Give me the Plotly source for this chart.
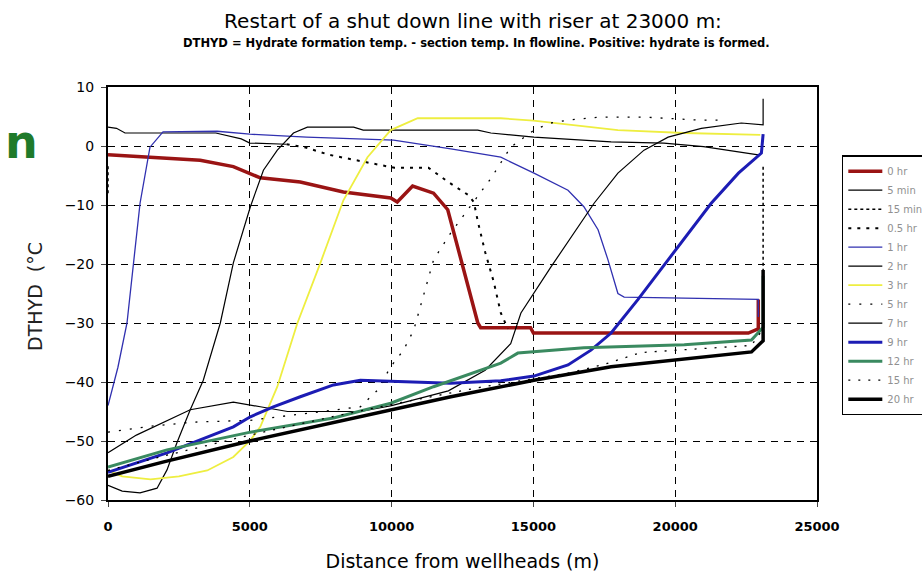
import plotly.graph_objects as go

# Distance from wellheads (m) / DTHYD (deg C) for each time after restart
x_0hr = [0, 1480, 3250, 4420, 5370, 6780, 8300, 9970, 10200, 10740, 11480, 11980, 12440, 13040, 13140, 14900, 15000, 22580, 22930, 22930]
y_0hr = [-1.5, -1.9, -2.4, -3.5, -5.4, -6.1, -7.8, -8.8, -9.5, -6.8, -8.0, -10.8, -19.3, -30.0, -30.8, -30.8, -31.7, -31.7, -31.0, -26.0]

x_5min = [0, 300, 600, 2000, 3800, 4700, 5000, 6300]
y_5min = [3.2, 3.0, 2.2, 2.2, 2.2, 1.2, 0.5, 0.3]

# two separate pieces: wellhead end and riser (None breaks the line)
x_15min = [0, 0, None, 23100, 23100]
y_15min = [-8.0, -3.0, None, -31.5, -3.5]

x_05hr = [6300, 7000, 7800, 9600, 10100, 11300, 12000, 12700, 12900, 13050, 13300, 13600, 13850, 14100]
y_05hr = [0.3, -0.3, -1.5, -3.2, -3.7, -3.7, -6.1, -8.3, -9.5, -13.0, -18.0, -23.0, -28.3, -31.0]

x_1hr = [0, 350, 670, 1130, 1480, 1940, 3850, 5000, 7000, 10070, 12090, 13850, 15020, 16220, 16780, 17280, 17630, 17980, 18200, 22930, 22930]
y_1hr = [-44.0, -37.5, -30.0, -9.7, -0.2, 2.4, 2.5, 2.0, 1.5, 1.0, -0.5, -1.9, -4.6, -7.5, -10.3, -14.2, -19.3, -25.0, -25.6, -26.0, -29.0]

x_2hr = [0, 500, 1130, 1730, 2080, 2430, 2900, 3360, 3960, 4420, 5020, 5480, 5970, 6540, 7030, 8660, 9000, 13040, 13500, 15020, 17740, 19600, 21000, 22930]
y_2hr = [-57.5, -58.5, -58.8, -58.0, -54.9, -50.3, -44.7, -39.7, -30.0, -19.8, -10.3, -4.1, -0.7, 2.2, 3.2, 3.2, 2.7, 2.7, 2.2, 1.5, 0.7, 0.5, -0.1, -1.5]

x_3hr = [0, 500, 1500, 2500, 3500, 4420, 5000, 5370, 5970, 6680, 7490, 8300, 9150, 9970, 10920, 13850, 15000, 17980, 20320, 23000]
y_3hr = [-55.0, -56.0, -56.5, -56.0, -55.0, -52.7, -50.0, -47.6, -40.8, -30.0, -19.8, -9.2, -1.9, 2.7, 4.7, 4.7, 4.3, 2.7, 2.2, 1.9]

x_5hr = [0, 1500, 3000, 5000, 8900, 9500, 9970, 10420, 10780, 11000, 11480, 12090, 13040, 13500, 14200, 15020, 15620, 16220, 17380, 18900, 20800, 21730]
y_5hr = [-48.5, -47.5, -46.8, -46.5, -44.2, -41.4, -37.4, -34.6, -31.2, -27.5, -19.3, -14.7, -8.6, -5.5, -0.2, 2.7, 3.9, 4.4, 4.9, 4.9, 4.4, 4.4]

x_7hr = [0, 1000, 2900, 4420, 5370, 6330, 8900, 10000, 12000, 13300, 14200, 14560, 15620, 16570, 17140, 17980, 18900, 19750, 20920, 22330, 23100, 23100]
y_7hr = [-52.0, -49.0, -44.7, -43.4, -44.2, -45.0, -45.0, -44.0, -41.5, -38.0, -33.5, -28.3, -20.5, -13.7, -9.7, -4.6, -0.7, 1.5, 3.0, 3.9, 3.6, 8.0]

x_9hr = [0, 2080, 3250, 4420, 5020, 5830, 6780, 7950, 8900, 12080, 13850, 15020, 16220, 17030, 17740, 18690, 19750, 21270, 22230, 23040, 23100]
y_9hr = [-55.3, -52.0, -49.8, -47.6, -45.9, -44.2, -42.5, -40.5, -39.7, -40.2, -39.8, -39.0, -37.1, -34.6, -31.7, -26.0, -19.3, -9.7, -4.6, -1.2, 2.0]

x_12hr = [0, 2080, 5020, 7950, 9970, 11480, 13850, 14450, 16780, 20320, 22690, 23100, 23100]
y_12hr = [-54.4, -51.5, -48.5, -46.1, -43.6, -40.8, -36.8, -35.1, -34.2, -33.7, -32.9, -30.7, -22.0]

x_15hr = [0, 2000, 5000, 8000, 10000, 13000, 16220, 17500, 18800, 22690, 23100]
y_15hr = [-55.0, -52.5, -49.0, -45.8, -43.8, -41.0, -38.5, -37.0, -35.0, -33.8, -31.0]

x_20hr = [0, 2000, 5000, 10000, 12090, 15020, 17740, 22690, 23100, 23100]
y_20hr = [-56.0, -53.5, -50.0, -44.7, -42.5, -39.7, -37.4, -34.9, -33.0, -21.0]

series = [
    ("0 hr", x_0hr, y_0hr, "#9a1414", 3.5, "solid"),
    ("5 min", x_5min, y_5min, "#000000", 1.2, "solid"),
    ("15 min", x_15min, y_15min, "#000000", 1.5, "dot"),
    ("0.5 hr", x_05hr, y_05hr, "#000000", 2.0, "3px,6px"),
    ("1 hr", x_1hr, y_1hr, "#3030b0", 1.3, "solid"),
    ("2 hr", x_2hr, y_2hr, "#000000", 1.2, "solid"),
    ("3 hr", x_3hr, y_3hr, "#eeee40", 1.8, "solid"),
    ("5 hr", x_5hr, y_5hr, "#000000", 1.3, "2px,9px"),
    ("7 hr", x_7hr, y_7hr, "#000000", 1.2, "solid"),
    ("9 hr", x_9hr, y_9hr, "#1c1cb4", 3.0, "solid"),
    ("12 hr", x_12hr, y_12hr, "#3a8a60", 3.0, "solid"),
    ("15 hr", x_15hr, y_15hr, "#000000", 1.3, "2px,8px"),
    ("20 hr", x_20hr, y_20hr, "#000000", 3.5, "solid"),
]

x_ticks = [0, 5000, 10000, 15000, 20000, 25000]
y_ticks = [10, 0, -10, -20, -30, -40, -50, -60]

fig = go.Figure()
for name, xs, ys, color, width, dash in series:
    fig.add_trace(go.Scatter(x=xs, y=ys, mode="lines", name=name,
                             connectgaps=False,
                             line=dict(color=color, width=width, dash=dash)))

fig.update_layout(
    width=922, height=577,
    margin=dict(l=108, r=105, t=87, b=77, autoexpand=False),
    paper_bgcolor="white", plot_bgcolor="white",
    font=dict(family="DejaVu Sans, Liberation Sans, sans-serif", color="black"),
    showlegend=True,
    legend=dict(x=1.035, y=0.835, xanchor="left", yanchor="top",
                bordercolor="black", borderwidth=1.5, bgcolor="white",
                font=dict(size=10, color="#909090"), itemwidth=34,
                tracegroupgap=0),
    title=dict(text="Restart of a shut down line with riser at 23000 m:",
               x=0.513, xanchor="center", y=0.964, yanchor="middle",
               font=dict(size=20, color="black")),
)

fig.update_xaxes(range=[0, 25000], tickvals=x_ticks,
                 ticktext=["<b>%d</b>" % v for v in x_ticks],
                 tickfont=dict(size=13), ticks="outside", ticklen=5,
                 ticklabelstandoff=8,
                 showline=True, linecolor="black", linewidth=2, mirror=True,
                 showgrid=True, gridcolor="black", gridwidth=1.2,
                 griddash="7px,6px", zeroline=False,
                 title=dict(text="Distance from wellheads (m)",
                            font=dict(size=19), standoff=22))
fig.update_yaxes(range=[-60, 10], tickvals=y_ticks,
                 tickfont=dict(size=14), ticks="outside", ticklen=5,
                 ticklabelstandoff=4,
                 showline=True, linecolor="black", linewidth=2, mirror=True,
                 showgrid=True, gridcolor="black", gridwidth=1.2,
                 griddash="7px,6px", zeroline=False)

# subtitle under the main title
fig.add_annotation(text="<b>DTHYD = Hydrate formation temp. - section temp. In flowline. Positive: hydrate is formed.</b>",
                   xref="paper", yref="paper", x=0.52, y=1.107, xanchor="center",
                   yanchor="middle", showarrow=False, font=dict(size=11.5, color="black"))
# y-axis label
fig.add_annotation(text="DTHYD  (°C", xref="paper", yref="paper",
                   x=(35 - 108) / 709, y=(500 - 297) / 413, textangle=-90,
                   showarrow=False, font=dict(size=19, color="#222222"),
                   xanchor="center", yanchor="middle")
# green letter at the left edge
fig.add_annotation(text="<b>n</b>", xref="paper", yref="paper",
                   x=(3 - 108) / 709, y=(500 - 142) / 413, xanchor="left",
                   yanchor="middle", showarrow=False,
                   font=dict(size=46, color="#1f7a2a"))

fig.write_html("out.html")
